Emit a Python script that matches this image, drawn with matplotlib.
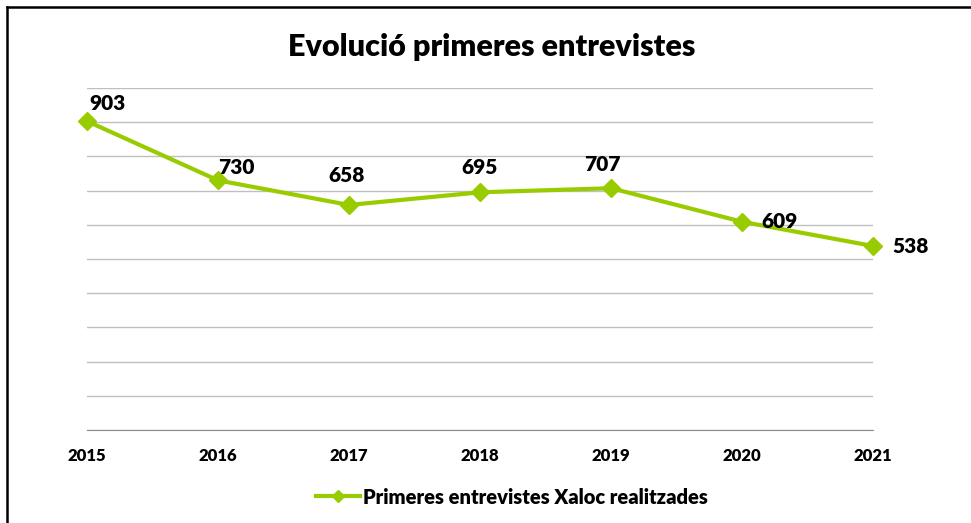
import matplotlib
matplotlib.use("Agg")
import matplotlib.pyplot as plt
from matplotlib.lines import Line2D

years = [2015, 2016, 2017, 2018, 2019, 2020, 2021]
values = [903, 730, 658, 695, 707, 609, 538]
series_name = "Primeres entrevistes Xaloc realitzades"
title = "Evolució primeres entrevistes"

GREEN = "#99CC00"
WT = "heavy"
plt.rcParams["font.family"] = ["Lato", "DejaVu Sans"]

fig = plt.figure(figsize=(9.71, 5.23), dpi=100)
W, H = 971, 523
ax = fig.add_axes([87 / W, 1 - 430 / H, (873 - 87) / W, (430 - 88) / H])

ax.plot(years, values, color=GREEN, lw=3, marker="D", ms=9, zorder=3, clip_on=False)
ax.set_xlim(2015, 2021)
ax.set_ylim(0, 1000)
ax.set_yticks(range(0, 1001, 100))
ax.yaxis.grid(True, color="#BFBFBF", lw=1)
ax.set_yticklabels([])
ax.tick_params(axis="y", length=0)
ax.set_xticks(years)
ax.set_xticklabels([str(y) for y in years], fontsize=12, fontweight=WT)
ax.tick_params(axis="x", length=0, pad=13)
for s in ["top", "right", "left"]:
    ax.spines[s].set_visible(False)
ax.spines["bottom"].set_color("#8C8C8C")
ax.set_axisbelow(True)

# label offsets (points) and alignments per point
offs = [(2, 13, "left"), (0, 9, "left"), (-2, 21, "center"), (0, 18, "center"),
        (-6, 17, "center"), (14, 0, "left"), (14, 0, "left")]
for x, v, (dx, dy, ha) in zip(years, values, offs):
    ax.annotate(str(v), (x, v), xytext=(dx, dy), textcoords="offset points",
                ha=ha, va="center", fontsize=15, fontweight=WT, annotation_clip=False)

fig.text(492 / W, 1 - 47 / H, title, ha="center", va="center", fontsize=22, fontweight=WT)

handle = Line2D([], [], color=GREEN, lw=3, marker="D", ms=6)
fig.legend([handle], [series_name], loc="center", bbox_to_anchor=(512 / W, 1 - 497 / H),
           frameon=False, handlelength=2.2, handletextpad=0.15,
           prop={"weight": WT, "size": 14.5})

# frame lines at top and left
fig.add_artist(Line2D([6.5 / W, 1], [1 - 6.5 / H] * 2, color="black", lw=1.8))
fig.add_artist(Line2D([6.5 / W] * 2, [0, 1 - 6.5 / H], color="black", lw=1.8))

fig.savefig("out.png", dpi=100)
